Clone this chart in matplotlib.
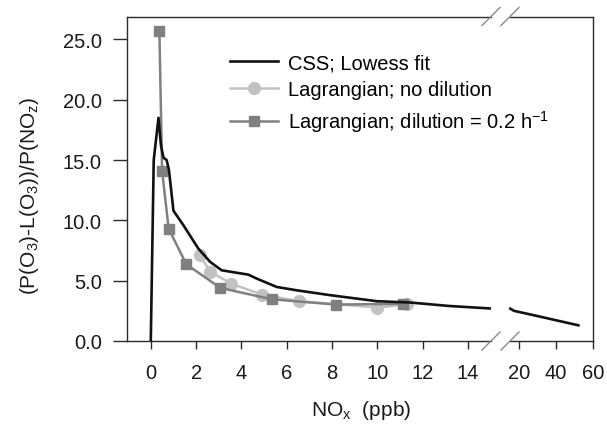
import matplotlib
matplotlib.use("Agg")
import matplotlib.pyplot as plt
from matplotlib.lines import Line2D

plt.rcParams['font.family'] = ['Liberation Sans', 'DejaVu Sans']
plt.rcParams['mathtext.default'] = 'regular'

# CSS lowess fit, split at the axis break
css_x_low = [0.0, 0.13, 0.34, 0.45, 0.56, 0.7, 0.8, 1.0, 1.44, 2.1, 2.62, 3.13,
             4.31, 4.68, 5.56, 6.45, 7.92, 9.98, 11.45, 13.2, 15.05]
css_y_low = [0.0, 15.0, 18.5, 16.2, 15.2, 15.0, 14.2, 10.8, 9.6, 7.66, 6.56, 5.86,
             5.5, 5.17, 4.48, 4.2, 3.8, 3.3, 3.19, 2.9, 2.69]
css_x_high = [15.5, 17.5, 30.0, 40.0, 52.0]
css_y_high = [2.68, 2.5, 2.07, 1.72, 1.3]

# Lagrangian model, no dilution
nodil_x = [2.16, 2.63, 3.55, 4.9, 6.56, 10.0, 11.33]
nodil_y = [7.16, 5.73, 4.76, 3.85, 3.3, 2.77, 3.05]

# Lagrangian model, dilution = 0.2 h-1
dil_x = [0.38, 0.5, 0.79, 1.57, 3.07, 5.34, 8.18, 11.15]
dil_y = [25.7, 14.1, 9.3, 6.36, 4.4, 3.46, 3.02, 3.08]

yticks = [0, 5, 10, 15, 20, 25]
xticks_low = [0, 2, 4, 6, 8, 10, 12, 14]
xticks_high = [20, 40, 60]

W, H = 607, 427
fig = plt.figure(figsize=(W / 100, H / 100), dpi=100)

def fx(px):
    return px / W

def fy(py):
    return 1 - py / H

ax_bot, ax_top = 342.0, 17.5
axL = fig.add_axes([fx(127), fy(ax_bot), fx(491) - fx(127), fy(ax_top) - fy(ax_bot)])
axR = fig.add_axes([fx(510), fy(ax_bot), fx(593.3) - fx(510), fy(ax_top) - fy(ax_bot)])

spine_col = '#2a2a2a'
black = '#111111'
dark = '#808080'
light = '#c2c2c2'

for ax in (axL, axR):
    ax.set_ylim(0, 26.9)
    for s in ax.spines.values():
        s.set_color(spine_col)
        s.set_linewidth(1.0)
    ax.tick_params(direction='out', length=6, width=1.0, color=spine_col,
                   labelsize=14.5, labelcolor='#1a1a1a', pad=10)

axL.set_xlim(-1.05, 15.02)
axR.set_xlim(15.33, 60)

axL.spines['right'].set_visible(False)
axR.spines['left'].set_visible(False)
axR.tick_params(axis='y', left=False, labelleft=False)
axL.tick_params(axis='y', length=10, pad=8)

axL.set_yticks(yticks)
axL.set_yticklabels([f"{v:.1f}" for v in yticks])
axL.set_xticks(xticks_low)
axR.set_xticks(xticks_high)

# data
axL.plot(css_x_low, css_y_low, color=black, lw=1.9, zorder=4)
axR.plot(css_x_high, css_y_high, color=black, lw=1.9, clip_on=False, zorder=4)
axL.plot(nodil_x, nodil_y, color=light, lw=1.8, marker='o', ms=8.5, mec=light, zorder=2)
axL.plot(dil_x, dil_y, color=dark, lw=1.8, marker='s', ms=7.5, mec=dark, zorder=3)

# legend
handles = [
    Line2D([], [], color=black, lw=1.9),
    Line2D([], [], color=light, lw=1.8, marker='o', ms=8.5, mec=light),
    Line2D([], [], color=dark, lw=1.8, marker='s', ms=7.5, mec=dark),
]
labels = ['CSS; Lowess fit', 'Lagrangian; no dilution',
          'Lagrangian; dilution = 0.2 h$^{-1}$']
fig.legend(handles, labels, loc='upper left', bbox_to_anchor=(fx(230), fy(54)),
           frameon=False, fontsize=14.5, handlelength=2.4, handletextpad=0.5,
           labelspacing=0.42, numpoints=1, borderpad=0, borderaxespad=0)

# axis break marks
def slash(cx, cy):
    fig.add_artist(Line2D([fx(cx - 9), fx(cx + 9)], [fy(cy + 9), fy(cy - 9)],
                          color='#8a8a8a', lw=1.0))

for cy in (ax_top, ax_bot):
    slash(491, cy)
    slash(510, cy)

fig.text(fx(30), fy(196), '(P(O$_3$)-L(O$_3$))/P(NO$_z$)', rotation=90,
         ha='center', va='center', fontsize=15, color='#1a1a1a')
fig.text(fx(361), fy(411), 'NO$_x$  (ppb)', ha='center', va='center',
         fontsize=15, color='#1a1a1a')

fig.savefig('out.png', dpi=100)
